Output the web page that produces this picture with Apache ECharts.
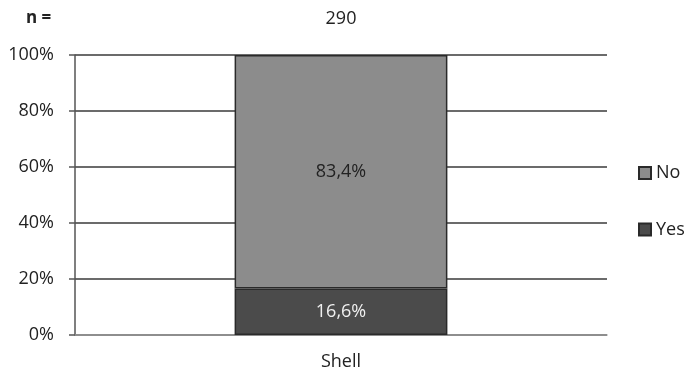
<!DOCTYPE html>
<html>
<head>
<meta charset="utf-8">
<script src="https://cdn.jsdelivr.net/npm/echarts@6/dist/echarts.min.js"></script>
<style>
  html, body { margin: 0; padding: 0; background: #fff; }
  #chart { width: 684px; height: 371px; }
</style>
</head>
<body>
<div id="chart"></div>
<script>
// Share of answers per group (percent), stacked to 100%
const categories = ['Shell'];
const sampleSizes = ['290'];
const yesValues = [16.6];
const noValues = [83.4];
const yTicks = [0, 20, 40, 60, 80, 100];

const FONT = '"Open Sans", "Liberation Sans", sans-serif';
const FS = 18;
const fmt = v => v.toFixed(1).replace('.', ',') + '%';

const chart = echarts.init(document.getElementById('chart'));
chart.setOption({
  animation: false,
  textStyle: { fontFamily: FONT },
  grid: { left: 75, right: 77, top: 55, bottom: 36, containLabel: false },
  xAxis: [
    {
      type: 'category',
      data: categories,
      axisLine: { show: true, lineStyle: { color: '#9a9a9a', width: 1.5 } },
      axisTick: { show: false },
      axisLabel: { color: '#222', fontSize: FS, fontFamily: FONT, margin: 18 }
    },
    {
      type: 'category',
      position: 'top',
      data: sampleSizes,
      axisLine: { show: false },
      axisTick: { show: false },
      axisLabel: { color: '#222', fontSize: FS, fontFamily: FONT, margin: 27 }
    }
  ],
  yAxis: {
    type: 'value',
    min: yTicks[0],
    max: yTicks[yTicks.length - 1],
    interval: 20,
    axisLine: { show: true, lineStyle: { color: '#555', width: 1.5 } },
    axisTick: { show: true, length: 6, lineStyle: { color: '#555', width: 1.5 } },
    axisLabel: { color: '#222', fontSize: FS, fontFamily: FONT, margin: 21, formatter: v => v + '%' },
    splitLine: { show: true, lineStyle: { color: '#3a3a3a', width: 1.5 } }
  },
  legend: {
    orient: 'vertical',
    left: 638,
    top: 163,
    padding: 0,
    itemGap: 36.5,
    itemWidth: 12,
    itemHeight: 12,
    icon: 'rect',
    data: ['No', 'Yes'],
    textStyle: { color: '#222', fontSize: FS, lineHeight: 20, fontFamily: FONT }
  },
  graphic: [
    {
      type: 'text',
      left: 26,
      top: 10,
      style: { text: 'n =', fill: '#222', font: 'bold 17px ' + FONT }
    }
  ],
  series: [
    {
      name: 'Yes',
      type: 'bar',
      stack: 'total',
      data: yesValues,
      barWidth: '40%',
      itemStyle: { color: '#4b4b4b', borderColor: '#2a2a2a', borderWidth: 1.5 },
      label: { show: true, position: 'inside', color: '#f0f0f0', fontSize: FS, fontFamily: FONT, formatter: p => fmt(p.value) }
    },
    {
      name: 'No',
      type: 'bar',
      stack: 'total',
      data: noValues,
      barWidth: '40%',
      itemStyle: { color: '#8c8c8c', borderColor: '#2a2a2a', borderWidth: 1.5 },
      label: { show: true, position: 'inside', color: '#222', fontSize: FS, fontFamily: FONT, formatter: p => fmt(p.value) }
    }
  ]
});
</script>
</body>
</html>
